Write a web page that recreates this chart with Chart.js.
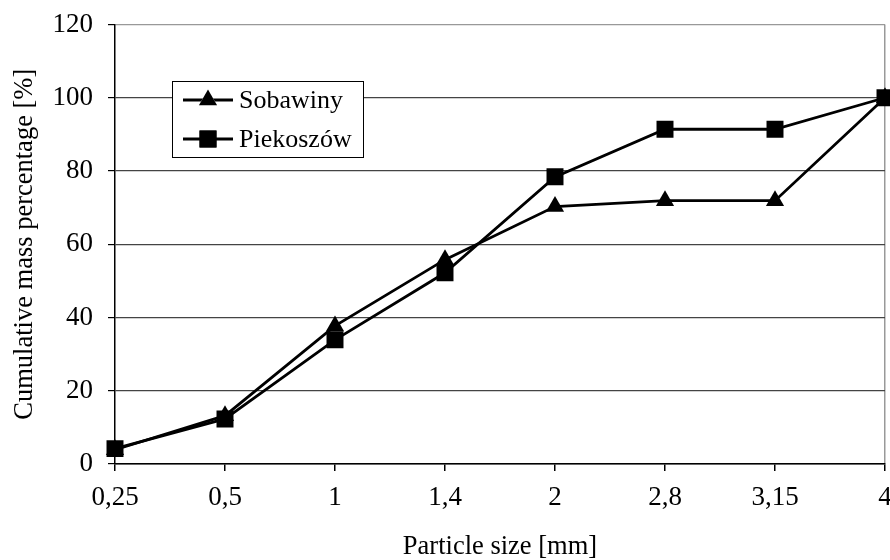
<!DOCTYPE html>
<html>
<head>
<meta charset="utf-8">
<script src="https://cdn.jsdelivr.net/npm/chart.js@4.4.0/dist/chart.umd.min.js"></script>
<style>
  html, body { margin: 0; padding: 0; background: #fff; }
  #wrap { width: 890px; height: 560px; position: relative; }
</style>
</head>
<body>
<div id="wrap"><canvas id="c" width="890" height="560"></canvas></div>
<script>
const categories = ['0,25', '0,5', '1', '1,4', '2', '2,8', '3,15', '4'];
const sobawiny = [3.9, 13.2, 37.7, 55.8, 70.3, 71.9, 71.9, 100];
const piekoszow = [4.2, 12.3, 33.9, 52.2, 78.4, 91.4, 91.4, 100];
const seriesNames = ['Sobawiny', 'Piekoszów'];
const yTicks = [0, 20, 40, 60, 80, 100, 120];
const xTitle = 'Particle size [mm]';
const yTitle = 'Cumulative mass percentage [%]';

const FONT = "'Liberation Serif', 'Times New Roman', serif";

const boxLegend = {
  id: 'boxLegend',
  afterDraw(chart) {
    const ctx = chart.ctx;
    const x0 = 172, y0 = 81, w = 191, h = 76;
    ctx.save();
    ctx.fillStyle = '#fff';
    ctx.fillRect(x0, y0, w, h);
    ctx.strokeStyle = '#000';
    ctx.lineWidth = 1;
    ctx.strokeRect(x0 + 0.5, y0 + 0.5, w, h);
    chart.data.datasets.forEach((ds, i) => {
      const y = y0 + 19 + i * 39;
      ctx.strokeStyle = '#000';
      ctx.lineWidth = 2.8;
      ctx.beginPath();
      ctx.moveTo(183, y);
      ctx.lineTo(233, y);
      ctx.stroke();
      Chart.helpers.drawPoint(ctx, {
        pointStyle: ds.pointStyle, radius: ds.pointRadius, borderWidth: 0, rotation: 0
      }, 208, y);
      ctx.fillStyle = '#000';
      ctx.fill();
      ctx.font = '26px ' + FONT;
      ctx.textBaseline = 'middle';
      ctx.textAlign = 'left';
      ctx.fillText(ds.label, 239, y + 1);
    });
    ctx.restore();
  }
};

new Chart(document.getElementById('c'), {
  type: 'line',
  data: {
    labels: categories,
    datasets: [
      { label: seriesNames[0], data: sobawiny, borderColor: '#000', backgroundColor: '#000',
        borderWidth: 2.8, pointStyle: 'triangle', pointRadius: 10.5, pointBorderWidth: 0, tension: 0 },
      { label: seriesNames[1], data: piekoszow, borderColor: '#000', backgroundColor: '#000',
        borderWidth: 2.8, pointStyle: 'rect', pointRadius: 12, pointBorderWidth: 0, tension: 0 }
    ]
  },
  options: {
    responsive: false,
    animation: false,
    devicePixelRatio: 1,
    layout: { autoPadding: false, padding: { left: 0, right: 5, top: 24.5, bottom: 0 } },
    plugins: { legend: { display: false }, tooltip: { enabled: false } },
    scales: {
      x: {
        type: 'category',
        offset: false,
        afterFit(s) { s.height = 96; s.paddingLeft = 0; s.paddingRight = 0; },
        border: { color: '#000', width: 1.5 },
        grid: {
          drawOnChartArea: true,
          color: c => c.index === categories.length - 1 ? '#999' : 'rgba(0,0,0,0)',
          tickColor: '#000',
          tickLength: 7,
          lineWidth: 1.5
        },
        ticks: { color: '#000', font: { family: FONT, size: 27 }, padding: 11, maxRotation: 0, autoSkip: false },
        title: { display: true, text: xTitle, color: '#000', font: { family: FONT, size: 26.5 }, padding: { top: 17, bottom: -3 } }
      },
      y: {
        min: 0, max: 120,
        afterFit(s) { s.width = 115; s.paddingTop = 0; s.paddingBottom = 0; },
        afterBuildTicks(s) { s.ticks = yTicks.map(v => ({ value: v })); },
        border: { color: '#000', width: 1.5 },
        grid: {
          color: c => (c.tick && c.tick.value === 120) ? '#999' : '#444',
          tickColor: '#000',
          tickLength: 7,
          lineWidth: 1.2
        },
        ticks: { color: '#000', font: { family: FONT, size: 27 }, padding: 15 },
        title: { display: true, text: yTitle, color: '#000', font: { family: FONT, size: 26.5 }, padding: { top: 9, bottom: 0 } }
      }
    }
  },
  plugins: [boxLegend]
});
</script>
</body>
</html>
